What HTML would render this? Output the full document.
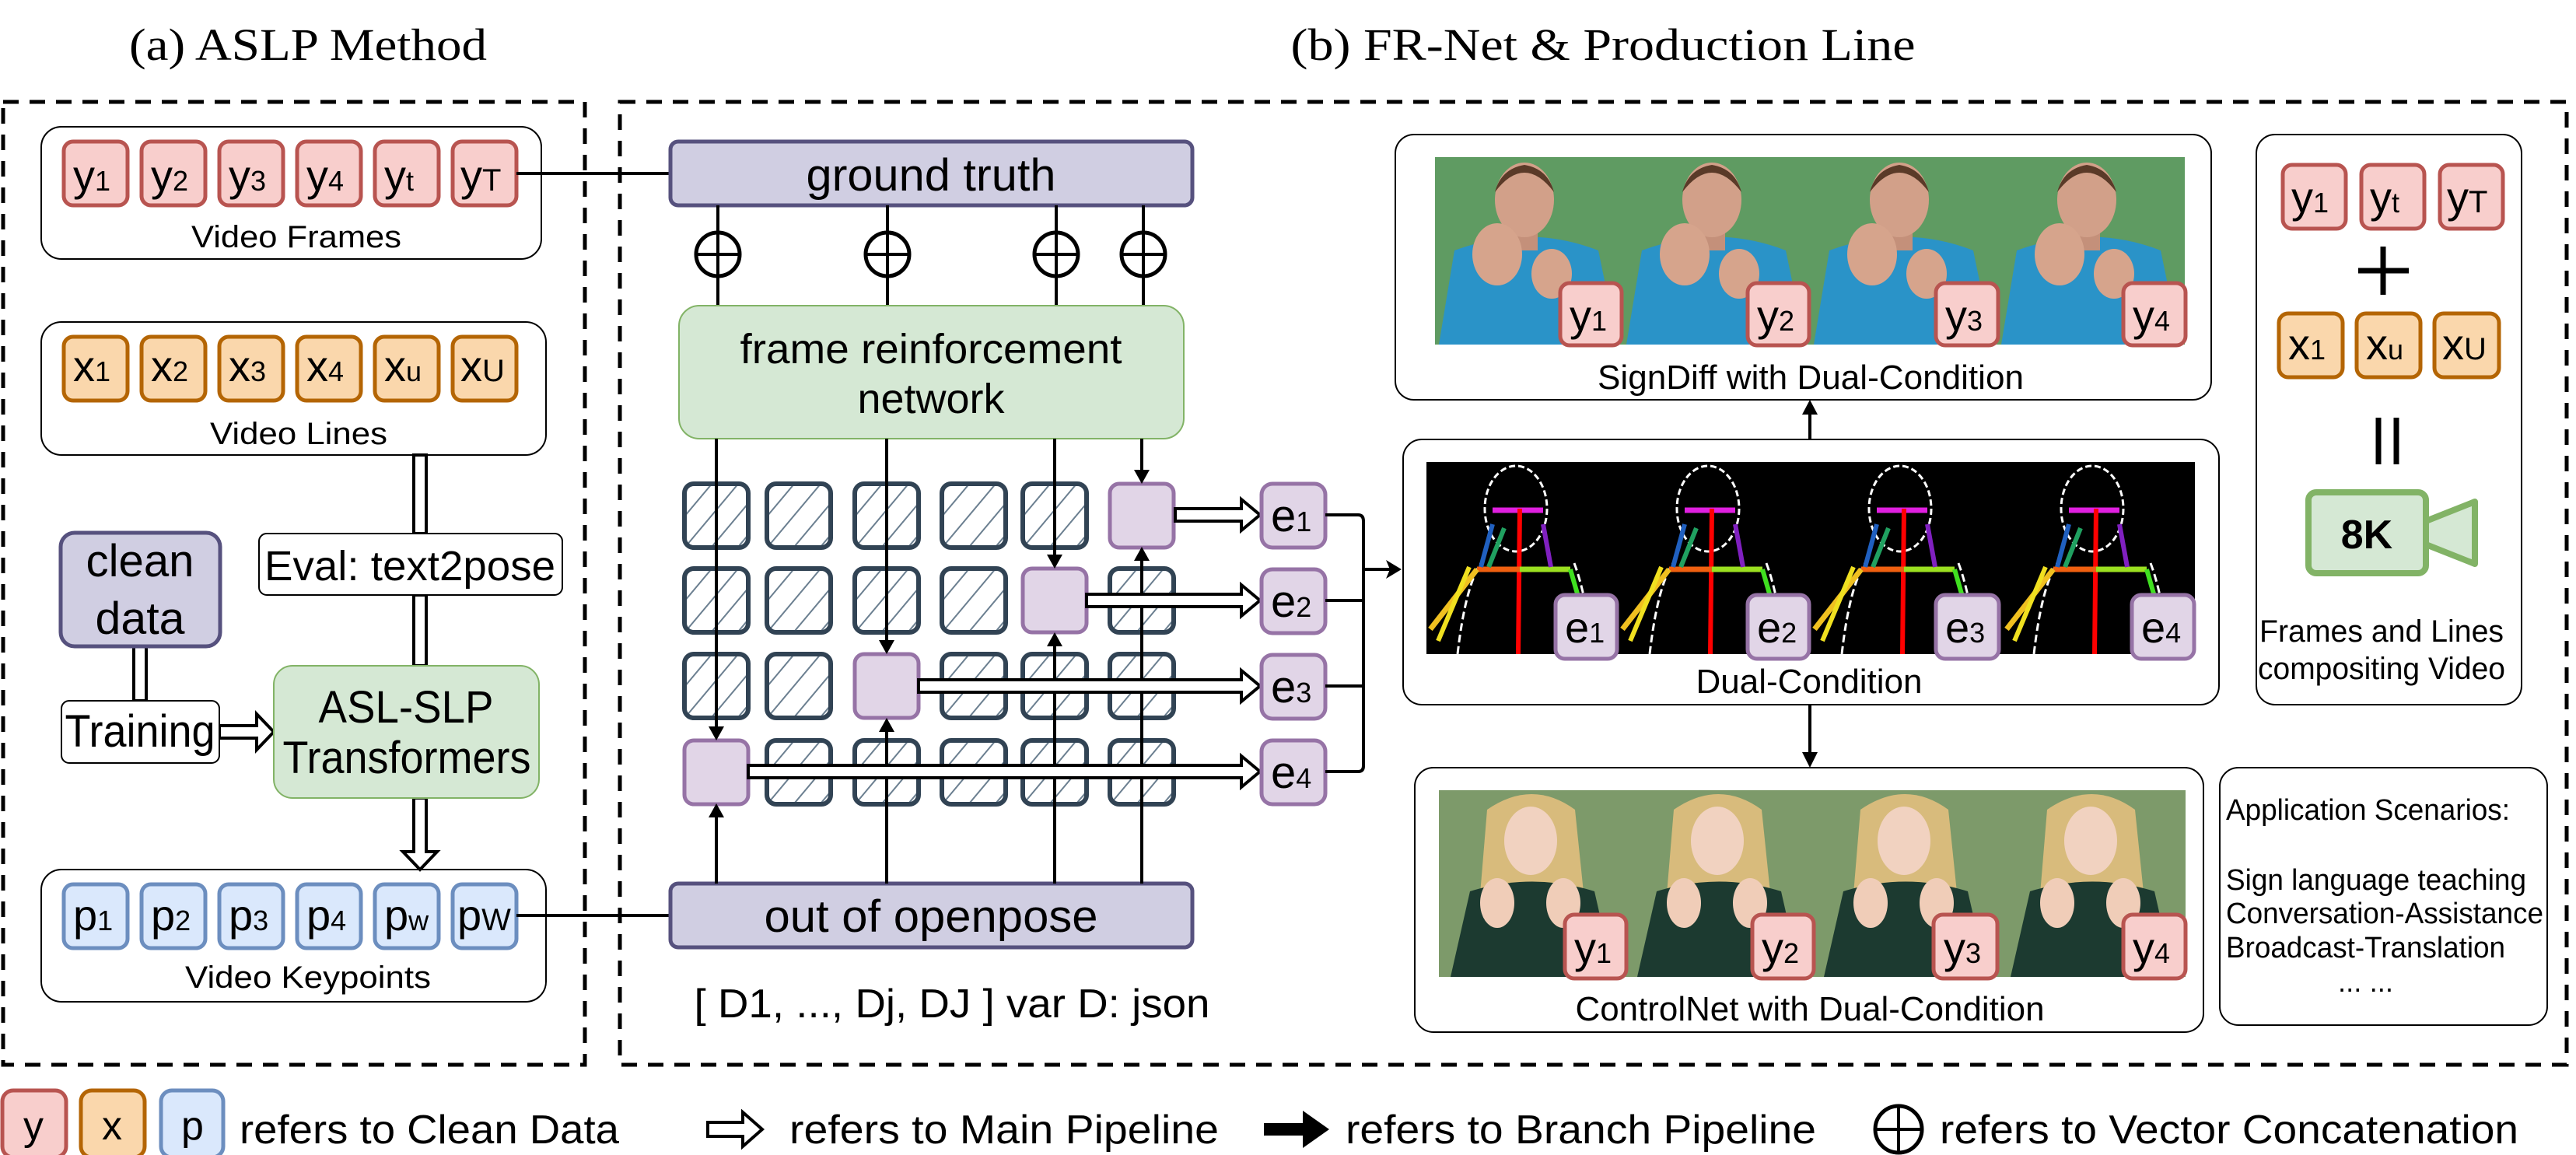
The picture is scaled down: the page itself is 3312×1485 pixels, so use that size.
<!DOCTYPE html>
<html><head><meta charset="utf-8"><style>
html,body{margin:0;padding:0;background:#fff;}
svg{display:block;}
text{font-family:"Liberation Sans",sans-serif;fill:#000;}
</style></head><body>
<svg width="3312" height="1485" viewBox="0 0 3312 1485" xmlns="http://www.w3.org/2000/svg">
<defs>
<pattern id="hatch" width="26" height="26" patternUnits="userSpaceOnUse" patternTransform="rotate(40)">
<line x1="0" y1="0" x2="0" y2="26" stroke="#6b7f90" stroke-width="4"/>
</pattern>
<g id="hcell">
<rect x="0" y="0" width="82" height="82" rx="12" fill="url(#hatch)" stroke="#314354" stroke-width="6"/>
</g>
<g id="pcell"><rect x="0" y="0" width="82" height="82" rx="12" fill="#e1d5e7" stroke="#9673a6" stroke-width="5"/></g>
<g id="man">
<rect x="0" y="0" width="241" height="241" fill="#5f9b62"/>
<path d="M5 241 L25 120 Q120 85 210 120 L235 241 Z" fill="#2a93c8"/>
<rect x="98" y="85" width="34" height="35" fill="#c4907a"/>
<ellipse cx="115" cy="55" rx="38" ry="48" fill="#d2a089"/>
<path d="M77 45 Q115 -5 153 45 Q145 15 115 10 Q85 15 77 45Z" fill="#5a3a28"/>
<ellipse cx="80" cy="125" rx="32" ry="40" fill="#d6a48c"/>
<ellipse cx="150" cy="150" rx="26" ry="32" fill="#d6a48c"/>
</g>
<g id="girl">
<rect x="0" y="0" width="240" height="240" fill="#7d9a6a"/>
<path d="M62 25 Q120 -15 175 25 L190 170 L50 170 Z" fill="#d8bb7c"/>
<path d="M15 240 L40 130 Q120 105 200 130 L225 240 Z" fill="#1c3a30"/>
<ellipse cx="118" cy="65" rx="34" ry="44" fill="#f1d2c0"/>
<ellipse cx="75" cy="145" rx="22" ry="32" fill="#f0cdb8"/>
<ellipse cx="160" cy="145" rx="22" ry="32" fill="#f0cdb8"/>
</g>
<g id="skel">
<rect x="0" y="0" width="247" height="247" fill="#000"/>
<ellipse cx="115" cy="60" rx="40" ry="55" fill="none" stroke="#fff" stroke-width="3" stroke-dasharray="8 4"/>
<path d="M40 247 Q50 160 70 130 M190 130 Q205 170 215 247" fill="none" stroke="#fff" stroke-width="3" stroke-dasharray="10 5"/>
<line x1="85" y1="62" x2="150" y2="62" stroke="#e020e0" stroke-width="7"/>
<line x1="120" y1="60" x2="118" y2="247" stroke="#f00" stroke-width="6"/>
<line x1="65" y1="138" x2="120" y2="138" stroke="#f06010" stroke-width="7"/>
<line x1="120" y1="138" x2="185" y2="138" stroke="#9be020" stroke-width="7"/>
<line x1="185" y1="138" x2="200" y2="190" stroke="#40e020" stroke-width="6"/>
<line x1="65" y1="138" x2="5" y2="215" stroke="#f0c020" stroke-width="7"/>
<line x1="55" y1="135" x2="15" y2="230" stroke="#f0e020" stroke-width="6"/>
<line x1="70" y1="135" x2="85" y2="80" stroke="#2060c0" stroke-width="6"/>
<line x1="80" y1="135" x2="100" y2="85" stroke="#20a060" stroke-width="6"/>
<line x1="160" y1="135" x2="150" y2="80" stroke="#8020c0" stroke-width="6"/>
</g>
</defs>

<text x="396" y="77" font-size="58" text-anchor="middle" style="font-family:'Liberation Serif',serif" textLength="460" lengthAdjust="spacingAndGlyphs">(a) ASLP Method</text>
<text x="2061" y="77" font-size="58" text-anchor="middle" style="font-family:'Liberation Serif',serif" textLength="803" lengthAdjust="spacingAndGlyphs">(b) FR-Net &amp; Production Line</text>

<rect x="4" y="131" width="748" height="1238" fill="none" stroke="#000" stroke-width="5" stroke-dasharray="20 14"/>
<rect x="797" y="131" width="2503" height="1238" fill="none" stroke="#000" stroke-width="5" stroke-dasharray="20 14"/>

<rect x="53" y="163" width="643" height="170" rx="26" fill="#fff" stroke="#000" stroke-width="2"/>
<rect x="53" y="414" width="649" height="171" rx="26" fill="#fff" stroke="#000" stroke-width="2"/>
<rect x="53" y="1118" width="649" height="170" rx="26" fill="#fff" stroke="#000" stroke-width="2"/>
<text x="381" y="318" font-size="40" text-anchor="middle" textLength="270" lengthAdjust="spacingAndGlyphs">Video Frames</text>
<text x="384" y="571" font-size="40" text-anchor="middle" textLength="228" lengthAdjust="spacingAndGlyphs">Video Lines</text>
<text x="396" y="1270" font-size="40" text-anchor="middle" textLength="316" lengthAdjust="spacingAndGlyphs">Video Keypoints</text>

<g font-size="56">
<g fill="#f8cecc" stroke="#b85450" stroke-width="5">
<rect x="82" y="182" width="82" height="82" rx="12"/><rect x="182" y="182" width="82" height="82" rx="12"/><rect x="282" y="182" width="82" height="82" rx="12"/><rect x="382" y="182" width="82" height="82" rx="12"/><rect x="482" y="182" width="82" height="82" rx="12"/><rect x="582" y="182" width="82" height="82" rx="12"/>
</g>
<text x="94" y="245">y<tspan font-size="36">1</tspan></text><text x="194" y="245">y<tspan font-size="36">2</tspan></text><text x="294" y="245">y<tspan font-size="36">3</tspan></text><text x="394" y="245">y<tspan font-size="36">4</tspan></text><text x="494" y="245">y<tspan font-size="36">t</tspan></text><text x="592" y="245">y<tspan font-size="40">T</tspan></text>
<g fill="#fad7ac" stroke="#b46504" stroke-width="5">
<rect x="82" y="433" width="82" height="82" rx="12"/><rect x="182" y="433" width="82" height="82" rx="12"/><rect x="282" y="433" width="82" height="82" rx="12"/><rect x="382" y="433" width="82" height="82" rx="12"/><rect x="482" y="433" width="82" height="82" rx="12"/><rect x="582" y="433" width="82" height="82" rx="12"/>
</g>
<text x="94" y="490">x<tspan font-size="36">1</tspan></text><text x="194" y="490">x<tspan font-size="36">2</tspan></text><text x="294" y="490">x<tspan font-size="36">3</tspan></text><text x="394" y="490">x<tspan font-size="36">4</tspan></text><text x="494" y="490">x<tspan font-size="36">u</tspan></text><text x="592" y="490">x<tspan font-size="40">U</tspan></text>
<g fill="#dae8fc" stroke="#6c8ebf" stroke-width="5">
<rect x="82" y="1137" width="82" height="82" rx="12"/><rect x="182" y="1137" width="82" height="82" rx="12"/><rect x="282" y="1137" width="82" height="82" rx="12"/><rect x="382" y="1137" width="82" height="82" rx="12"/><rect x="482" y="1137" width="82" height="82" rx="12"/><rect x="582" y="1137" width="82" height="82" rx="12"/>
</g>
<text x="94" y="1196">p<tspan font-size="36">1</tspan></text><text x="194" y="1196">p<tspan font-size="36">2</tspan></text><text x="294" y="1196">p<tspan font-size="36">3</tspan></text><text x="394" y="1196">p<tspan font-size="36">4</tspan></text><text x="494" y="1196">p<tspan font-size="36">w</tspan></text><text x="588" y="1196">p<tspan font-size="40">W</tspan></text>
</g>

<path d="M532 585 L548 585 L548 686 L532 686 Z" fill="#fff" stroke="#000" stroke-width="4"/>
<path d="M532 765 L548 765 L548 856 L532 856 Z" fill="#fff" stroke="#000" stroke-width="4"/>
<path d="M532 1026 L548 1026 L548 1095 L562 1095 L540 1118 L518 1095 L532 1095 Z" fill="#fff" stroke="#000" stroke-width="4"/>
<path d="M172 831 L188 831 L188 901 L172 901 Z" fill="#fff" stroke="#000" stroke-width="4"/>
<path d="M282 933 L330 933 L330 918 L352 941 L330 964 L330 949 L282 949 Z" fill="#fff" stroke="#000" stroke-width="4"/>

<rect x="78" y="685" width="205" height="146" rx="18" fill="#d0cee2" stroke="#56517e" stroke-width="5"/>
<text x="180" y="741" font-size="58" text-anchor="middle" textLength="139" lengthAdjust="spacingAndGlyphs">clean</text>
<text x="180" y="815" font-size="58" text-anchor="middle" textLength="115" lengthAdjust="spacingAndGlyphs">data</text>
<rect x="333" y="686" width="390" height="79" rx="10" fill="#fff" stroke="#000" stroke-width="2"/>
<text x="527" y="746" font-size="54" text-anchor="middle" textLength="374" lengthAdjust="spacingAndGlyphs">Eval: text2pose</text>
<rect x="79" y="901" width="203" height="80" rx="10" fill="#fff" stroke="#000" stroke-width="2"/>
<text x="180" y="960" font-size="58" text-anchor="middle" textLength="193" lengthAdjust="spacingAndGlyphs">Training</text>
<rect x="352" y="856" width="341" height="170" rx="24" fill="#d5e8d4" stroke="#82b366" stroke-width="2"/>
<text x="522" y="929" font-size="58" text-anchor="middle" textLength="225" lengthAdjust="spacingAndGlyphs">ASL-SLP</text>
<text x="523" y="994" font-size="58" text-anchor="middle" textLength="319" lengthAdjust="spacingAndGlyphs">Transformers</text>

<line x1="664" y1="223" x2="862" y2="223" stroke="#000" stroke-width="4"/>
<line x1="664" y1="1177" x2="862" y2="1177" stroke="#000" stroke-width="4"/>

<rect x="862" y="182" width="671" height="82" rx="10" fill="#d0cee2" stroke="#56517e" stroke-width="5"/>
<text x="1197" y="245" font-size="58" text-anchor="middle" textLength="321" lengthAdjust="spacingAndGlyphs">ground truth</text>
<rect x="862" y="1136" width="671" height="82" rx="10" fill="#d0cee2" stroke="#56517e" stroke-width="5"/>
<text x="1197" y="1198" font-size="58" text-anchor="middle" textLength="429" lengthAdjust="spacingAndGlyphs">out of openpose</text>
<text x="1224" y="1308" font-size="52" text-anchor="middle" textLength="663" lengthAdjust="spacingAndGlyphs">[ D1, ..., Dj, DJ ] var D: json</text>

<g stroke="#000" stroke-width="4" fill="none">
<line x1="923" y1="264" x2="923" y2="393"/><line x1="1141" y1="264" x2="1141" y2="393"/><line x1="1358" y1="264" x2="1358" y2="393"/><line x1="1470" y1="264" x2="1470" y2="393"/>
</g>
<g stroke="#000" stroke-width="5" fill="#fff">
<circle cx="923" cy="327" r="28"/><circle cx="1141" cy="327" r="28"/><circle cx="1358" cy="327" r="28"/><circle cx="1470" cy="327" r="28"/>
</g>
<g stroke="#000" stroke-width="4">
<line x1="923" y1="299" x2="923" y2="355"/><line x1="895" y1="327" x2="951" y2="327"/>
<line x1="1141" y1="299" x2="1141" y2="355"/><line x1="1113" y1="327" x2="1169" y2="327"/>
<line x1="1358" y1="299" x2="1358" y2="355"/><line x1="1330" y1="327" x2="1386" y2="327"/>
<line x1="1470" y1="299" x2="1470" y2="355"/><line x1="1442" y1="327" x2="1498" y2="327"/>
</g>

<rect x="873" y="393" width="649" height="171" rx="26" fill="#d5e8d4" stroke="#82b366" stroke-width="2"/>
<text x="1197" y="467" font-size="54" text-anchor="middle" textLength="491" lengthAdjust="spacingAndGlyphs">frame reinforcement</text>
<text x="1197" y="531" font-size="54" text-anchor="middle" textLength="189" lengthAdjust="spacingAndGlyphs">network</text>

<g>
<use href="#hcell" x="880" y="622"/><use href="#hcell" x="986" y="622"/><use href="#hcell" x="1099" y="622"/><use href="#hcell" x="1211" y="622"/><use href="#hcell" x="1315" y="622"/><use href="#pcell" x="1427" y="622"/>
<use href="#hcell" x="880" y="731"/><use href="#hcell" x="986" y="731"/><use href="#hcell" x="1099" y="731"/><use href="#hcell" x="1211" y="731"/><use href="#pcell" x="1315" y="731"/><use href="#hcell" x="1427" y="731"/>
<use href="#hcell" x="880" y="841"/><use href="#hcell" x="986" y="841"/><use href="#pcell" x="1099" y="841"/><use href="#hcell" x="1211" y="841"/><use href="#hcell" x="1315" y="841"/><use href="#hcell" x="1427" y="841"/>
<use href="#pcell" x="880" y="952"/><use href="#hcell" x="986" y="952"/><use href="#hcell" x="1099" y="952"/><use href="#hcell" x="1211" y="952"/><use href="#hcell" x="1315" y="952"/><use href="#hcell" x="1427" y="952"/>
</g>

<g stroke="#000" stroke-width="4">
<line x1="921" y1="564" x2="921" y2="938"/><line x1="921" y1="1136" x2="921" y2="1048"/>
<line x1="1140" y1="564" x2="1140" y2="827"/><line x1="1140" y1="1136" x2="1140" y2="938"/>
<line x1="1356" y1="564" x2="1356" y2="717"/><line x1="1356" y1="1136" x2="1356" y2="828"/>
<line x1="1468" y1="564" x2="1468" y2="608"/><line x1="1468" y1="1136" x2="1468" y2="718"/>
</g>
<g fill="#000">
<path d="M911 934 L931 934 L921 952Z"/><path d="M911 1051 L931 1051 L921 1033Z"/>
<path d="M1130 823 L1150 823 L1140 841Z"/><path d="M1130 941 L1150 941 L1140 923Z"/>
<path d="M1346 713 L1366 713 L1356 731Z"/><path d="M1346 831 L1366 831 L1356 813Z"/>
<path d="M1458 604 L1478 604 L1468 622Z"/><path d="M1458 721 L1478 721 L1468 703Z"/>
</g>

<g fill="#fff" stroke="#000" stroke-width="4">
<path d="M1511 654 L1596 654 L1596 642 L1620 662 L1596 682 L1596 670 L1511 670Z"/>
<path d="M1397 764 L1596 764 L1596 752 L1620 772 L1596 792 L1596 780 L1397 780Z"/>
<path d="M1181 874 L1596 874 L1596 862 L1620 882 L1596 902 L1596 890 L1181 890Z"/>
<path d="M962 984 L1596 984 L1596 972 L1620 992 L1596 1012 L1596 1000 L962 1000Z"/>
</g>

<g fill="#e1d5e7" stroke="#9673a6" stroke-width="5">
<rect x="1622" y="622" width="82" height="82" rx="14"/><rect x="1622" y="732" width="82" height="82" rx="14"/><rect x="1622" y="842" width="82" height="82" rx="14"/><rect x="1622" y="952" width="82" height="82" rx="14"/>
</g>
<g font-size="58">
<text x="1634" y="683">e<tspan font-size="36">1</tspan></text><text x="1634" y="793">e<tspan font-size="36">2</tspan></text><text x="1634" y="903">e<tspan font-size="36">3</tspan></text><text x="1634" y="1013">e<tspan font-size="36">4</tspan></text>
</g>
<g stroke="#000" stroke-width="4" fill="none">
<path d="M1704 662 L1746 662 Q1753 662 1753 670 L1753 985 Q1753 992 1746 992 L1704 992"/>
<line x1="1704" y1="772" x2="1753" y2="772"/><line x1="1704" y1="882" x2="1753" y2="882"/>
<line x1="1753" y1="732" x2="1790" y2="732"/>
</g>
<path d="M1782 720 L1802 732 L1782 744 L1787 732Z" fill="#000"/>

<rect x="1794" y="173" width="1049" height="341" rx="24" fill="#fff" stroke="#000" stroke-width="2"/>
<use href="#man" x="1845" y="202"/><use href="#man" x="2086" y="202"/><use href="#man" x="2327" y="202"/><use href="#man" x="2568" y="202"/>
<text x="2328" y="500" font-size="44" text-anchor="middle" textLength="548" lengthAdjust="spacingAndGlyphs">SignDiff with Dual-Condition</text>

<rect x="1804" y="565" width="1049" height="341" rx="24" fill="#fff" stroke="#000" stroke-width="2"/>
<use href="#skel" x="1834" y="594"/><use href="#skel" x="2081" y="594"/><use href="#skel" x="2328" y="594"/><use href="#skel" x="2575" y="594"/>
<text x="2326" y="891" font-size="44" text-anchor="middle" textLength="291" lengthAdjust="spacingAndGlyphs">Dual-Condition</text>

<rect x="1819" y="987" width="1014" height="340" rx="24" fill="#fff" stroke="#000" stroke-width="2"/>
<use href="#girl" x="1850" y="1016"/><use href="#girl" x="2090" y="1016"/><use href="#girl" x="2330" y="1016"/><use href="#girl" x="2570" y="1016"/>
<text x="2327" y="1312" font-size="44" text-anchor="middle" textLength="603" lengthAdjust="spacingAndGlyphs">ControlNet with Dual-Condition</text>

<g stroke="#000" stroke-width="4"><line x1="2327" y1="565" x2="2327" y2="530"/><line x1="2327" y1="906" x2="2327" y2="970"/></g>
<path d="M2317 533 L2327 514 L2337 533Z" fill="#000"/><path d="M2317 967 L2327 987 L2337 967Z" fill="#000"/>

<g font-size="56">
<g fill="#f8cecc" stroke="#b85450" stroke-width="5">
<rect x="2006" y="364" width="79" height="80" rx="12"/><rect x="2247" y="364" width="79" height="80" rx="12"/><rect x="2489" y="364" width="80" height="80" rx="12"/><rect x="2730" y="364" width="80" height="80" rx="12"/>
<rect x="2012" y="1176" width="79" height="82" rx="12"/><rect x="2253" y="1176" width="79" height="82" rx="12"/><rect x="2486" y="1176" width="82" height="82" rx="12"/><rect x="2730" y="1176" width="80" height="82" rx="12"/>
</g>
<text x="2018" y="425">y<tspan font-size="36">1</tspan></text><text x="2259" y="425">y<tspan font-size="36">2</tspan></text><text x="2501" y="425">y<tspan font-size="36">3</tspan></text><text x="2742" y="425">y<tspan font-size="36">4</tspan></text>
<text x="2024" y="1238">y<tspan font-size="36">1</tspan></text><text x="2265" y="1238">y<tspan font-size="36">2</tspan></text><text x="2499" y="1238">y<tspan font-size="36">3</tspan></text><text x="2742" y="1238">y<tspan font-size="36">4</tspan></text>
<g fill="#e1d5e7" stroke="#9673a6" stroke-width="5">
<rect x="2000" y="765" width="79" height="82" rx="12"/><rect x="2247" y="765" width="79" height="82" rx="12"/><rect x="2489" y="765" width="81" height="82" rx="12"/><rect x="2741" y="765" width="80" height="82" rx="12"/>
</g>
<text x="2012" y="826">e<tspan font-size="36">1</tspan></text><text x="2259" y="826">e<tspan font-size="36">2</tspan></text><text x="2501" y="826">e<tspan font-size="36">3</tspan></text><text x="2753" y="826">e<tspan font-size="36">4</tspan></text>
</g>

<rect x="2901" y="173" width="341" height="733" rx="24" fill="#fff" stroke="#000" stroke-width="2"/>
<g font-size="56">
<g fill="#f8cecc" stroke="#b85450" stroke-width="5">
<rect x="2935" y="212" width="81" height="82" rx="12"/><rect x="3036" y="212" width="81" height="82" rx="12"/><rect x="3137" y="212" width="81" height="82" rx="12"/>
</g>
<text x="2946" y="273">y<tspan font-size="36">1</tspan></text><text x="3047" y="273">y<tspan font-size="36">t</tspan></text><text x="3146" y="273">y<tspan font-size="40">T</tspan></text>
<g fill="#fad7ac" stroke="#b46504" stroke-width="5">
<rect x="2930" y="403" width="82" height="82" rx="12"/><rect x="3030" y="403" width="82" height="82" rx="12"/><rect x="3130" y="403" width="83" height="82" rx="12"/>
</g>
<text x="2942" y="462">x<tspan font-size="36">1</tspan></text><text x="3042" y="462">x<tspan font-size="36">u</tspan></text><text x="3140" y="462">x<tspan font-size="40">U</tspan></text>
</g>
<g stroke="#000" stroke-width="7">
<line x1="3064" y1="317" x2="3064" y2="379"/><line x1="3032" y1="348" x2="3097" y2="348"/>
<line x1="3058" y1="537" x2="3058" y2="597"/><line x1="3081" y1="537" x2="3081" y2="597"/>
</g>
<rect x="2968" y="633" width="151" height="104" rx="10" fill="#d5e8d4" stroke="#82b366" stroke-width="8"/>
<path d="M3119 670 L3182 645 L3182 725 L3119 700Z" fill="#d5e8d4" stroke="#82b366" stroke-width="8" stroke-linejoin="round"/>
<text x="3043" y="705" font-size="52" font-weight="bold" text-anchor="middle">8K</text>
<text x="3062" y="825" font-size="40" text-anchor="middle" textLength="314" lengthAdjust="spacingAndGlyphs">Frames and Lines</text>
<text x="3062" y="873" font-size="40" text-anchor="middle" textLength="318" lengthAdjust="spacingAndGlyphs">compositing Video</text>

<rect x="2854" y="987" width="421" height="331" rx="24" fill="#fff" stroke="#000" stroke-width="2"/>
<g font-size="38">
<text x="2862" y="1054" textLength="365" lengthAdjust="spacingAndGlyphs">Application Scenarios:</text>
<text x="2862" y="1144" textLength="386" lengthAdjust="spacingAndGlyphs">Sign language teaching</text>
<text x="2862" y="1187" textLength="408" lengthAdjust="spacingAndGlyphs">Conversation-Assistance</text>
<text x="2862" y="1231" textLength="359" lengthAdjust="spacingAndGlyphs">Broadcast-Translation</text>
<text x="3006" y="1275" textLength="71" lengthAdjust="spacingAndGlyphs">... ...</text>
</g>

<g font-size="52">
<rect x="3" y="1402" width="82" height="86" rx="14" fill="#f8cecc" stroke="#b85450" stroke-width="5"/>
<rect x="104" y="1402" width="82" height="86" rx="14" fill="#fad7ac" stroke="#b46504" stroke-width="5"/>
<rect x="207" y="1402" width="80" height="86" rx="14" fill="#dae8fc" stroke="#6c8ebf" stroke-width="5"/>
<text x="30" y="1465">y</text><text x="131" y="1465">x</text><text x="233" y="1465">p</text>
<text x="308" y="1470" textLength="488" lengthAdjust="spacingAndGlyphs">refers to Clean Data</text>
<text x="1015" y="1470" textLength="552" lengthAdjust="spacingAndGlyphs">refers to Main Pipeline</text>
<text x="1730" y="1470" textLength="605" lengthAdjust="spacingAndGlyphs">refers to Branch Pipeline</text>
<text x="2494" y="1470" textLength="744" lengthAdjust="spacingAndGlyphs">refers to Vector Concatenation</text>
</g>
<path d="M910 1443 L955 1443 L955 1430 L980 1452 L955 1474 L955 1461 L910 1461Z" fill="#fff" stroke="#000" stroke-width="4"/>
<path d="M1625 1444 L1675 1444 L1675 1428 L1709 1452 L1675 1476 L1675 1460 L1625 1460Z" fill="#000"/>
<circle cx="2441" cy="1452" r="30" fill="#fff" stroke="#000" stroke-width="5"/>
<line x1="2441" y1="1422" x2="2441" y2="1482" stroke="#000" stroke-width="4"/><line x1="2411" y1="1452" x2="2471" y2="1452" stroke="#000" stroke-width="4"/>
</svg>
</body></html>
